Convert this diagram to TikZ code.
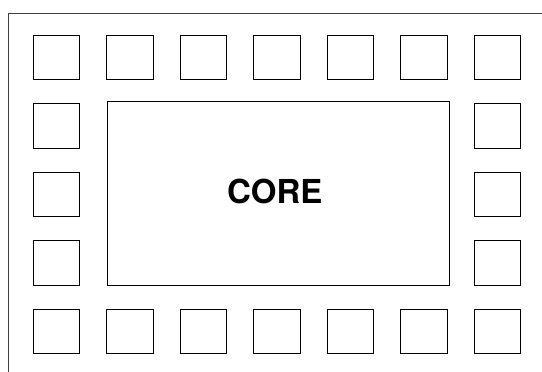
\documentclass[tikz,border=0pt]{standalone}
\usepackage{fontspec}
\setsansfont{TeX Gyre Heros}
\begin{document}
\begin{tikzpicture}[x=1pt,y=-1pt,line width=1pt]
\tikzset{pad/.style={draw,minimum width=46.5pt,minimum height=44.5pt,inner sep=0pt}}
\useasboundingbox (0,0) rectangle (542,372);
% die outline, cut off on the right and at the bottom
\draw[black!75] (8.5,372) -- (8.5,13.5) -- (542,13.5);
\node[draw,minimum width=342pt,minimum height=183.3pt,inner sep=0pt] (core) at (278.3,193.4) {};
\node[inner sep=0pt,font=\sffamily\bfseries\fontsize{33}{33}\selectfont] (corename) at ([xshift=-3.5pt,yshift=1.7pt]core.center) {CORE};
% pads, top and bottom rows
\foreach \c in {0,...,6} {
  \node[pad] (top\c) at (56.7+73.45*\c,57.5) {};
  \node[pad] (bot\c) at (56.7+73.45*\c,331.7) {};
}
% pads, left and right columns
\foreach \r in {1,2,3} {
  \node[pad] (left\r) at (56.7,57.5+68.55*\r) {};
  \node[pad] (right\r) at (497.4,57.5+68.55*\r) {};
}
\end{tikzpicture}
\end{document}
